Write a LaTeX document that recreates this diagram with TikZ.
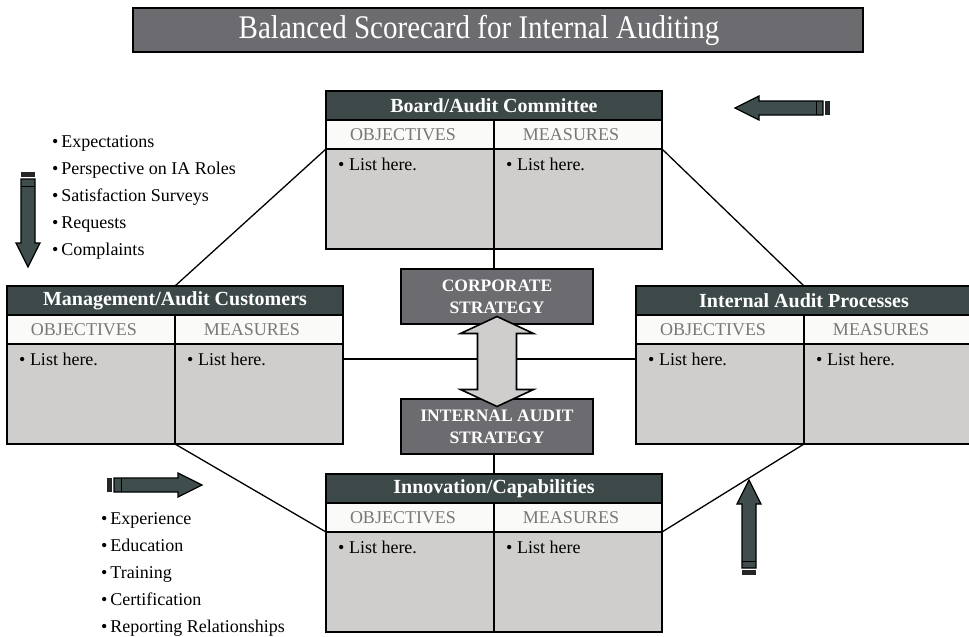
\documentclass[tikz,border=0pt]{standalone}
\usepackage{graphicx}
\usepackage{fontspec}
\setmainfont{Liberation Serif}
\usetikzlibrary{calc,backgrounds}

\definecolor{headdark}{HTML}{3D4949}
\definecolor{boxgray}{HTML}{6C6C70}
\definecolor{cellgray}{HTML}{CFCECC}
\definecolor{subwhite}{HTML}{FAFAF8}
\definecolor{subtext}{HTML}{787878}
\definecolor{arrowdark}{HTML}{3F4D4D}

\begin{document}
\begin{tikzpicture}[x=1pt,y=-1pt,
    head/.style={draw=black,line width=1.6pt,fill=headdark,text=white,
      font=\fontsize{20}{24}\selectfont\bfseries,minimum width=336pt,
      minimum height=29pt,inner sep=0pt,outer sep=0pt,anchor=north west},
    sub/.style={draw=black,line width=1.6pt,fill=subwhite,text=subtext,
      font=\fontsize{18}{22}\selectfont,minimum width=168pt,
      minimum height=29pt,inner sep=0pt,outer sep=0pt,anchor=north west},
    cell/.style={draw=black,line width=1.6pt,fill=cellgray,minimum width=168pt,
      minimum height=100pt,inner sep=0pt,outer sep=0pt,anchor=north west},
    item/.style={font=\fontsize{18}{22}\selectfont,inner sep=0pt,anchor=base west},
    note/.style={font=\fontsize{18}{22}\selectfont,inner sep=0pt,anchor=base west},
    strat/.style={draw=black,line width=1.4pt,fill=boxgray,text=white,align=center,
      font=\fontsize{17.5}{22}\selectfont\bfseries,minimum width=192pt,
      minimum height=55pt,inner sep=0pt},
    link/.style={line width=1.3pt},
    dblarrow/.style={draw=black,line width=1.6pt,fill=cellgray,line join=miter},
    blockarrow/.pic={
      \fill[black!85] (0,-7) rectangle (5,7);
      \draw[line width=1.3pt,fill=arrowdark] (7,-7) -- (71,-7) -- (71,-12) -- (95,0)
        -- (71,12) -- (71,7) -- (7,7) -- cycle;
      \draw[line width=1pt] (14,-7) -- (14,7);
    }]
    \useasboundingbox (0,0) rectangle (969,637);
    \clip (0,0) rectangle (969,637);

    % title
    \node[draw=black,line width=1.4pt,fill=boxgray,text=white,minimum width=730pt,
      minimum height=44pt,inner sep=0pt] (title) at (498,30)
      {\scalebox{0.88}[1]{\fontsize{33}{38}\selectfont Balanced Scorecard for Internal Auditing}\hspace*{38pt}};

    % the four scorecards
    \foreach \c/\x/\y/\t/\m in {b/326/91/{Board/Audit Committee}/{List here.},
        m/7/286/{Management/Audit Customers}/{List here.},
        p/636/286/{Internal Audit Processes}/{List here.},
        i/326/474/{Innovation/Capabilities}/{List here}} {
      \node[head] (\c-head) at (\x,\y) {\t};
      \node[sub] (\c-obj) at (\c-head.south west) {OBJECTIVES\hspace*{14pt}};
      \node[sub] (\c-mea) at (\c-obj.north east) {MEASURES\hspace*{14pt}};
      \node[cell] (\c-objb) at (\c-obj.south west) {};
      \node[cell] (\c-meab) at (\c-mea.south west) {};
      \node[item] (\c-objt) at ($(\c-objb.north west)+(12,21)$) {\textbullet\ List here.};
      \node[item] (\c-meat) at ($(\c-meab.north west)+(12,21)$) {\textbullet\ \m};
    }

    % strategies
    \node[strat] (corp) at (497,296.5) {CORPORATE\\STRATEGY};
    \node[strat] (ias) at (497,426.5) {INTERNAL AUDIT\\STRATEGY};
    \coordinate (mid) at ($(corp.south)!0.5!(ias.north)$);
    \draw[dblarrow,shift={(mid)}] (0,-45) -- (36.5,-28) -- (19.5,-28) -- (19.5,28)
      -- (36.5,28) -- (0,45) -- (-36.5,28) -- (-19.5,28) -- (-19.5,-28)
      -- (-36.5,-28) -- cycle;

    % connectors
    \begin{scope}[on background layer]
      \draw[link] (b-obj.north east) -- (i-obj.north east);
      \draw[link] (m-meat) -- (p-objt);
      \draw[link] (m-head.north) -- (b-obj.south west);
      \draw[link] (b-mea.south east) -- (p-head.north);
      \draw[link] (m-objb.south east) -- (i-obj.south west);
      \draw[link] (p-objb.south east) -- (i-mea.south east);
    \end{scope}

    % block arrows
    \pic (boardarrow) [rotate=180] at (830,108) {blockarrow};
    \pic (custarrow) [rotate=-90] at (28,172) {blockarrow};
    \pic (innovarrow) at (107,485) {blockarrow};
    \pic (procarrow) [rotate=90] at (749,575) {blockarrow};

    % side notes
    \node[note] (exp1) at (52,147) {\textbullet\hspace{3pt}Expectations};
    \node[note] (exp2) at (52,174) {\textbullet\hspace{3pt}Perspective on IA Roles};
    \node[note] (exp3) at (52,201) {\textbullet\hspace{3pt}Satisfaction Surveys};
    \node[note] (exp4) at (52,228) {\textbullet\hspace{3pt}Requests};
    \node[note] (exp5) at (52,255) {\textbullet\hspace{3pt}Complaints};
    \node[note] (cap1) at (101,524) {\textbullet\hspace{3pt}Experience};
    \node[note] (cap2) at (101,551) {\textbullet\hspace{3pt}Education};
    \node[note] (cap3) at (101,578) {\textbullet\hspace{3pt}Training};
    \node[note] (cap4) at (101,605) {\textbullet\hspace{3pt}Certification};
    \node[note] (cap5) at (101,632) {\textbullet\hspace{3pt}Reporting Relationships};
\end{tikzpicture}
\end{document}
